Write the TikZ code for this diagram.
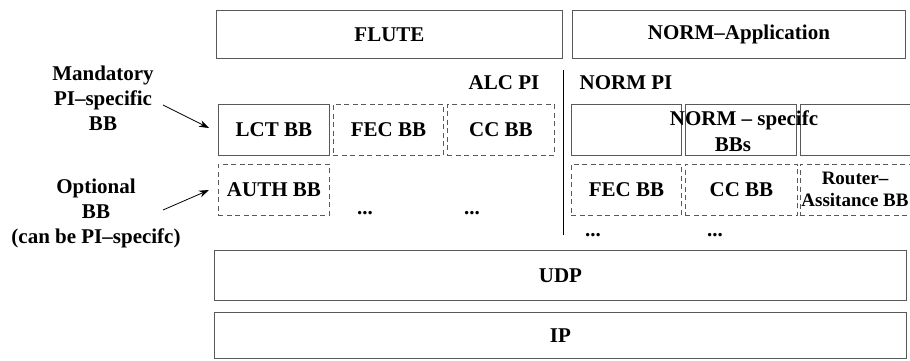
\documentclass[tikz,border=0pt]{standalone}
\usepackage{fontspec}
\setmainfont{Liberation Serif}
\usetikzlibrary{arrows.meta,calc}
\begin{document}
\begin{tikzpicture}[x=1pt,y=-1pt,
  txt/.style={font=\fontsize{21}{25}\selectfont\bfseries, inner sep=0pt, align=center},
  small/.style={font=\fontsize{19}{22}\selectfont\bfseries, inner sep=0pt, align=center},
  box/.style={draw=black!65, line width=0.9pt, inner sep=0pt, anchor=north west,
    font=\fontsize{21}{25}\selectfont\bfseries},
  dbox/.style={box, dash pattern=on 5pt off 3.5pt},
  arr/.style={-{Stealth[length=10pt,width=7pt]}, line width=0.8pt, black}]
\useasboundingbox (0,0) rectangle (910,360);
% application layer
\node[box, minimum width=346pt, minimum height=48pt] (flute) at (216,10) {FLUTE};
\node[box, minimum width=333pt, minimum height=48pt] (normapp) at (572,10) {NORM--Application};
% PI labels
\node[txt] (alcpi) at (504,83) {ALC PI};
\node[txt] (normpi) at (626,83) {NORM PI};
\draw[line width=1pt, black] (563,70) -- (563,235);
% ALC building blocks
\node[box, minimum width=111pt, minimum height=51pt] (lct) at (218,104) {LCT BB};
\node[dbox, minimum width=110pt, minimum height=51pt] (fec1) at (333,104) {FEC BB};
\node[dbox, minimum width=107pt, minimum height=51pt] (cc1) at (447,104) {CC BB};
\node[dbox, minimum width=111pt, minimum height=51pt] (auth) at (218,164) {AUTH BB};
\node[txt] (dots1) at (365,213) {...};
\node[txt] (dots2) at (472,213) {...};
% NORM building blocks
\node[box, minimum width=110pt, minimum height=51pt] (n1) at (571,104) {};
\node[box, minimum width=111pt, minimum height=51pt] (n2) at (685,104) {};
\node[box, minimum width=112pt, minimum height=51pt] (n3) at (800,104) {};
\node[txt] (normspec) at (744,120) {NORM -- specifc};
\node[txt] (normspecb) at (733,145) {BBs};
\node[dbox, minimum width=110pt, minimum height=51pt] (fec2) at (571,164) {FEC BB};
\node[dbox, minimum width=112pt, minimum height=51pt] (cc2) at (685,164) {CC BB};
\node[dbox, minimum width=112pt, minimum height=51pt] (ra) at (800,164) {};
\node[small] (ratxt) at (855,189) {Router--\\Assitance BB};
\node[txt] (dots3) at (593,235) {...};
\node[txt] (dots4) at (715,235) {...};
% transport layers
\node[box, minimum width=692pt, minimum height=50pt] (udp) at (214,250) {UDP};
\node[box, minimum width=692pt, minimum height=46pt] (ip) at (214,312) {IP};
% left labels
\node[txt] (mand) at (103,98) {Mandatory\\PI--specific\\BB};
\node[txt] (opt) at (96,213) {Optional\\BB\\(can be PI--specifc)};
\coordinate (m1) at (163,105);
\coordinate (m2) at (209,128);
\coordinate (o1) at (163,210);
\coordinate (o2) at (209,190);
\draw[arr] (m1) -- (m2);
\draw[arr] (o1) -- (o2);
\end{tikzpicture}
\end{document}
